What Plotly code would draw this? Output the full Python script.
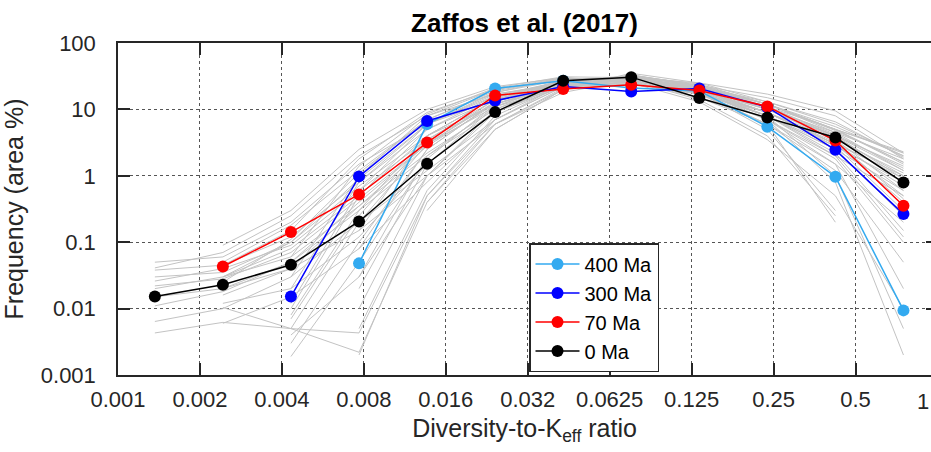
import math
import plotly.graph_objects as go

# Bin centres (diversity-to-Keff ratio), log-spaced bins
bin_centers = [0.001334, 0.002371, 0.004217, 0.0075, 0.01334, 0.02371,
               0.04217, 0.075, 0.1334, 0.2371, 0.4217, 0.75]

x_tickvals = [2.0 ** -k for k in range(10, -1, -1)]
x_ticktext = ["0.001", "0.002", "0.004", "0.008", "0.016", "0.032",
              "0.0625", "0.125", "0.25", "0.5", "1"]
y_tickvals = [0.001, 0.01, 0.1, 1, 10, 100]
y_ticktext = ["0.001", "0.01", "0.1", "1", "10", "100"]

# Highlighted time slices (frequency, area %)
ma400 = [None, None, None, 0.048, 6.0, 20.6, 27.0, 21.0, 19.0, 5.5, 0.97, 0.0094]
ma300 = [None, None, 0.0152, 0.98, 6.7, 13.5, 22.1, 18.6, 20.6, 10.8, 2.46, 0.265]
ma70 = [None, 0.043, 0.142, 0.523, 3.17, 16.2, 20.2, 23.5, 19.3, 11.1, 3.4, 0.353]
ma0 = [0.0152, 0.0229, 0.0457, 0.205, 1.52, 9.1, 27.0, 30.6, 14.8, 7.55, 3.77, 0.79]

# Other time slices (grey)
grey_series = [
    [0.050, 0.060, 0.20, 1.5, 6, 14, 22, 24, 18, 9, 3.0, 1.0],
    [0.041, 0.070, 0.25, 2.0, 8, 17, 24, 25, 17, 8, 2.5, 0.6],
    [0.038, 0.045, 0.12, 0.8, 5, 14, 24, 27, 19, 10, 4.0, 1.4],
    [0.026, 0.040, 0.09, 0.6, 3.5, 12, 25, 30, 20, 9, 3.5, 1.1],
    [0.020, 0.030, 0.06, 0.35, 2.2, 10, 26, 31, 19, 7, 2.0, 0.5],
    [0.011, 0.018, 0.05, 0.30, 2.0, 9, 24, 30, 21, 10, 4.5, 1.8],
    [0.0064, 0.010, 0.03, 0.20, 1.2, 7, 22, 33, 22, 11, 5.0, 2.2],
    [0.0043, 0.0062, 0.0050, 0.0043, 0.5, 6, 20, 32, 24, 12, 5.5, 2.0],
    [0.015, 0.020, 0.04, 0.15, 1.0, 6, 18, 28, 22, 12, 5.0, 1.5],
    [None, 0.09, 0.30, 2.5, 10, 22, 30, 26, 15, 6, 1.5, 0.2],
    [None, 0.05, 0.18, 1.2, 7, 18, 28, 28, 18, 8, 2.8, 0.8],
    [None, 0.03, 0.08, 0.5, 4, 15, 27, 29, 19, 9, 3.2, 0.9],
    [None, 0.012, 0.02, 0.12, 1.5, 9, 22, 30, 21, 10, 4.0, 1.2],
    [None, 0.0104, 0.005, 0.0022, 0.4, 5, 20, 33, 23, 12, 5.0, 1.6],
    [None, 0.006, 0.015, 0.08, 0.8, 7, 24, 32, 20, 9, 3.0, 0.7],
    [None, 0.02, 0.05, 0.4, 3, 13, 27, 30, 18, 8, 2.5, 0.25],
    [None, None, 0.01, 0.5, 5, 16, 27, 27, 17, 7, 1.8, 0.1],
    [None, None, 0.005, 0.2, 3, 14, 28, 29, 18, 6, 1.2, 0.05],
    [None, None, 0.0019, 0.05, 1.8, 12, 26, 30, 19, 7, 1.5, 0.02],
    [None, None, 0.003, 0.1, 2.5, 13, 25, 28, 20, 9, 3.0, 0.4],
    [None, None, 0.008, 0.3, 4, 15, 26, 27, 19, 9, 2.8, 0.3],
    [None, None, 0.02, 0.8, 6, 17, 25, 25, 18, 8, 2.2, 0.15],
    [None, None, 0.004, 0.03, 1.0, 10, 24, 30, 21, 10, 3.5, 0.6],
    [None, None, 0.012, 0.6, 6, 16, 24, 24, 17, 9, 3.0, 0.5],
    [None, None, None, 0.002, 0.5, 7, 22, 32, 22, 11, 4.0, 0.9],
    [None, None, None, 0.01, 1.0, 9, 24, 31, 20, 8, 1.0, 0.005],
    [None, None, None, 0.03, 2.0, 11, 25, 30, 19, 7, 0.8, 0.002],
    [None, None, None, 0.005, 0.6, 8, 23, 31, 21, 10, 3.8, 1.0],
    [None, None, None, 0.15, 4, 15, 27, 28, 17, 6, 0.2, None],
    [None, None, None, 0.02, 1.5, 11, 26, 30, 18, 5, 0.3, None],
    [None, None, None, None, 0.4, 6, 21, 33, 23, 12, 5.0, 2.3],
    [None, None, None, None, 0.3, 5, 20, 35, 25, 13, 6.0, 2.0],
    [None, 0.03, 0.1, 0.9, 6, 18, 30, 27, 14, 4, 0.25, None],
    [None, None, 0.03, 1.0, 8, 20, 30, 25, 13, 3.5, 0.5, 0.01],
    [0.030, 0.035, 0.1, 0.7, 4, 12, 23, 30, 25, 17, 9.5, 2.2],
    [None, 0.045, 0.15, 1.8, 9, 20, 28, 28, 23, 15, 8, 1.8],
    [None, 0.025, 0.11, 1.1, 7, 19, 29, 29, 20, 11, 4.2, 1.3],
    [None, None, 0.06, 1.4, 8.5, 21, 31, 30, 21, 12, 4.8, 1.6],
    [0.022, 0.028, 0.07, 0.45, 3.0, 11, 21, 26, 22, 13, 6.5, 1.9],
    [None, None, 0.007, 0.25, 3.5, 14, 27, 32, 22, 11, 3.3, 0.45],
    [None, 0.016, 0.04, 0.35, 2.8, 12, 23, 27, 21, 12, 4.5, 1.2],
    [None, None, None, 0.08, 2.5, 13, 26, 29, 18, 8, 2.0, 0.12],
]

highlight = [
    ("400 Ma", ma400, "#33AAF0"),
    ("300 Ma", ma300, "#0000FF"),
    ("70 Ma", ma70, "#FF0000"),
    ("0 Ma", ma0, "#000000"),
]

FONT = "Liberation Sans, Arial, Helvetica, sans-serif"
AX = "#262626"

fig = go.Figure()
for s in grey_series:
    fig.add_trace(go.Scatter(x=bin_centers, y=s, mode="lines",
                             line=dict(color="#C3C3C3", width=1),
                             showlegend=False, hoverinfo="skip",
                             connectgaps=False))
for name, vals, col in highlight:
    fig.add_trace(go.Scatter(x=bin_centers, y=vals, mode="lines+markers",
                             name=name, line=dict(color=col, width=1.5),
                             marker=dict(color=col, size=12)))

xr = [math.log10(2.0 ** -10), math.log10(2.0 ** -0.079)]

fig.update_layout(
    width=931, height=452,
    margin=dict(l=118, r=0, t=43, b=77),
    paper_bgcolor="white", plot_bgcolor="white",
    font=dict(family=FONT, size=22, color=AX),
    title=dict(text="<b>Zaffos et al. (2017)</b>", x=0.5, xref="paper",
               xanchor="center", y=1 - 23 / 452, yref="container",
               yanchor="middle", font=dict(size=26, color="#000000", family=FONT)),
    xaxis=dict(type="log", range=xr, tickvals=x_tickvals, ticktext=x_ticktext,
               ticks="inside", ticklen=12, tickwidth=1.5, tickcolor=AX,
               showline=True, linecolor=AX, linewidth=1.5, mirror="ticks",
               showgrid=True, gridcolor="#555555", griddash="dot", gridwidth=1,
               zeroline=False, ticklabelstandoff=4,
               title=dict(text="Diversity-to-K<sub>eff</sub> ratio",
                          font=dict(size=25), standoff=8)),
    yaxis=dict(type="log", range=[-3, 2], tickvals=y_tickvals, ticktext=y_ticktext,
               ticks="inside", ticklen=12, tickwidth=1.5, tickcolor=AX,
               showline=True, linecolor=AX, linewidth=1.5, mirror=False,
               showgrid=True, gridcolor="#555555", griddash="dot", gridwidth=1,
               zeroline=False, ticklabelstandoff=16,
               title=dict(text="Frequency (area %)", font=dict(size=25), standoff=12)),
    yaxis2=dict(type="log", range=[-3, 2], overlaying="y", side="right",
                tickvals=y_tickvals, showticklabels=False, ticks="inside",
                ticklen=5, tickwidth=1.5, tickcolor=AX, showline=False,
                showgrid=False, zeroline=False),
    legend=dict(x=(529 - 118) / 813, y=(375 - 243) / 332, xanchor="left",
                yanchor="top", bgcolor="white", bordercolor=AX, borderwidth=1.5,
                font=dict(size=20, color="#000000"), traceorder="normal",
                itemwidth=44),
    annotations=[dict(text="1", xref="paper", yref="paper", x=(923 - 118) / 813,
                      y=0, yanchor="top", xanchor="center", yshift=-12,
                      showarrow=False, font=dict(size=22, color=AX))],
)
fig.add_trace(go.Scatter(x=[bin_centers[0]], y=[None], yaxis="y2",
                         showlegend=False, hoverinfo="skip"))

fig.write_html("out.html")
